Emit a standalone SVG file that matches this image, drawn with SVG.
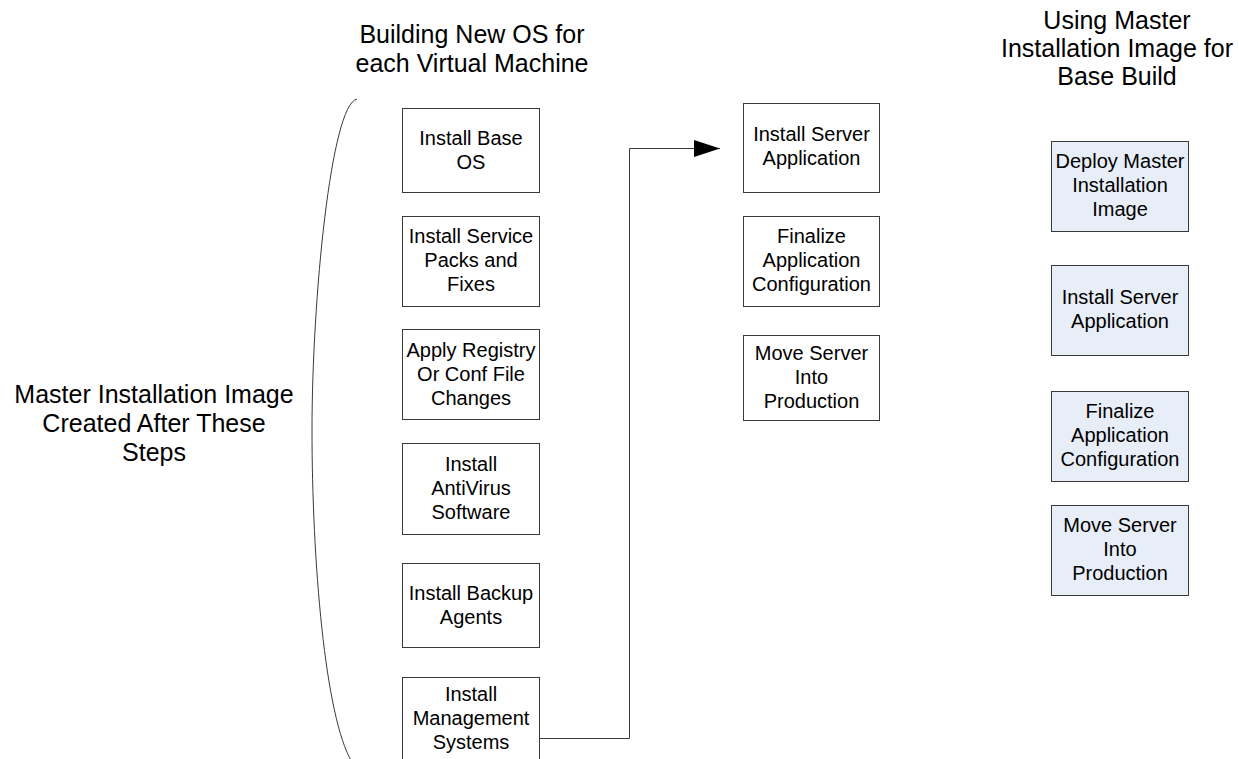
<svg xmlns="http://www.w3.org/2000/svg" width="1239" height="759" viewBox="0 0 1239 759">
  <style>
    .box { fill: #ffffff; stroke: #3a3a3a; stroke-width: 1; }
    .box.image { fill: #e8eef8; }
    .lbl { font-family: "Liberation Sans", Arial, sans-serif; font-size: 20px; fill: #000000; text-anchor: middle; }
    .title { font-family: "Liberation Sans", Arial, sans-serif; font-size: 25px; fill: #000000; text-anchor: middle; }
    .wire { fill: none; stroke: #3a3a3a; stroke-width: 1; }
  </style>
  <defs>
    <marker id="arrow" markerUnits="userSpaceOnUse" markerWidth="28" markerHeight="20" refX="26" refY="9" orient="auto">
      <path d="M0,0.5 L26,9 L0,17.5 Z" fill="#000000"/>
    </marker>
  </defs>

  <rect width="1239" height="759" fill="#ffffff"/>

  <!-- Column headings -->
  <g id="heading-build">
    <text class="title" x="472" y="43">Building New OS for</text>
    <text class="title" x="472" y="72">each Virtual Machine</text>
  </g>
  <g id="heading-master">
    <text class="title" x="1117" y="29">Using Master</text>
    <text class="title" x="1117" y="57">Installation Image for</text>
    <text class="title" x="1117" y="85">Base Build</text>
  </g>

  <!-- Bracket note covering the base-build steps -->
  <g id="master-note">
    <path class="wire" d="M357,99 C331,104 312,300 312,430 C312,560 325,718 352,762"/>
    <text class="title" x="154" y="403">Master Installation Image</text>
    <text class="title" x="154" y="432">Created After These</text>
    <text class="title" x="154" y="461">Steps</text>
  </g>

  <!-- Left column: building a new OS -->
  <g id="install-base-os">
    <rect class="box" x="402.5" y="108.5" width="137" height="84"/>
    <text class="lbl" x="471" y="145">Install Base</text>
    <text class="lbl" x="471" y="169">OS</text>
  </g>
  <g id="install-service-packs">
    <rect class="box" x="402.5" y="216.5" width="137" height="90"/>
    <text class="lbl" x="471" y="243">Install Service</text>
    <text class="lbl" x="471" y="267">Packs and</text>
    <text class="lbl" x="471" y="291">Fixes</text>
  </g>
  <g id="apply-registry">
    <rect class="box" x="402.5" y="329.5" width="137" height="90"/>
    <text class="lbl" x="471" y="357">Apply Registry</text>
    <text class="lbl" x="471" y="381">Or Conf File</text>
    <text class="lbl" x="471" y="405">Changes</text>
  </g>
  <g id="install-antivirus">
    <rect class="box" x="402.5" y="443.5" width="137" height="91"/>
    <text class="lbl" x="471" y="471">Install</text>
    <text class="lbl" x="471" y="495">AntiVirus</text>
    <text class="lbl" x="471" y="519">Software</text>
  </g>
  <g id="install-backup">
    <rect class="box" x="402.5" y="563.5" width="137" height="84"/>
    <text class="lbl" x="471" y="600">Install Backup</text>
    <text class="lbl" x="471" y="624">Agents</text>
  </g>
  <g id="install-management">
    <rect class="box" x="402.5" y="677.5" width="137" height="86"/>
    <text class="lbl" x="471" y="701">Install</text>
    <text class="lbl" x="471" y="725">Management</text>
    <text class="lbl" x="471" y="749">Systems</text>
  </g>

  <!-- Middle column: application steps -->
  <g id="install-server-app">
    <rect class="box" x="743.5" y="103.5" width="136" height="89"/>
    <text class="lbl" x="811.5" y="141">Install Server</text>
    <text class="lbl" x="811.5" y="165">Application</text>
  </g>
  <g id="finalize-config">
    <rect class="box" x="743.5" y="216.5" width="136" height="90"/>
    <text class="lbl" x="811.5" y="243">Finalize</text>
    <text class="lbl" x="811.5" y="267">Application</text>
    <text class="lbl" x="811.5" y="291">Configuration</text>
  </g>
  <g id="move-production">
    <rect class="box" x="743.5" y="335.5" width="136" height="85"/>
    <text class="lbl" x="811.5" y="360">Move Server</text>
    <text class="lbl" x="811.5" y="384">Into</text>
    <text class="lbl" x="811.5" y="408">Production</text>
  </g>

  <!-- Right column: master image based build -->
  <g id="deploy-master-image">
    <rect class="box image" x="1051.5" y="141.5" width="137" height="90"/>
    <text class="lbl" x="1120" y="168">Deploy Master</text>
    <text class="lbl" x="1120" y="192">Installation</text>
    <text class="lbl" x="1120" y="216">Image</text>
  </g>
  <g id="install-server-app-2">
    <rect class="box image" x="1051.5" y="265.5" width="137" height="90"/>
    <text class="lbl" x="1120" y="304">Install Server</text>
    <text class="lbl" x="1120" y="328">Application</text>
  </g>
  <g id="finalize-config-2">
    <rect class="box image" x="1051.5" y="391.5" width="137" height="90"/>
    <text class="lbl" x="1120" y="418">Finalize</text>
    <text class="lbl" x="1120" y="442">Application</text>
    <text class="lbl" x="1120" y="466">Configuration</text>
  </g>
  <g id="move-production-2">
    <rect class="box image" x="1051.5" y="505.5" width="137" height="90"/>
    <text class="lbl" x="1120" y="532">Move Server</text>
    <text class="lbl" x="1120" y="556">Into</text>
    <text class="lbl" x="1120" y="580">Production</text>
  </g>

  <!-- Connectors -->
  <g id="connectors">
    <path class="wire" d="M539.5,738.5 H629.5 V148.5 H720" marker-end="url(#arrow)"/>
  </g>
</svg>
